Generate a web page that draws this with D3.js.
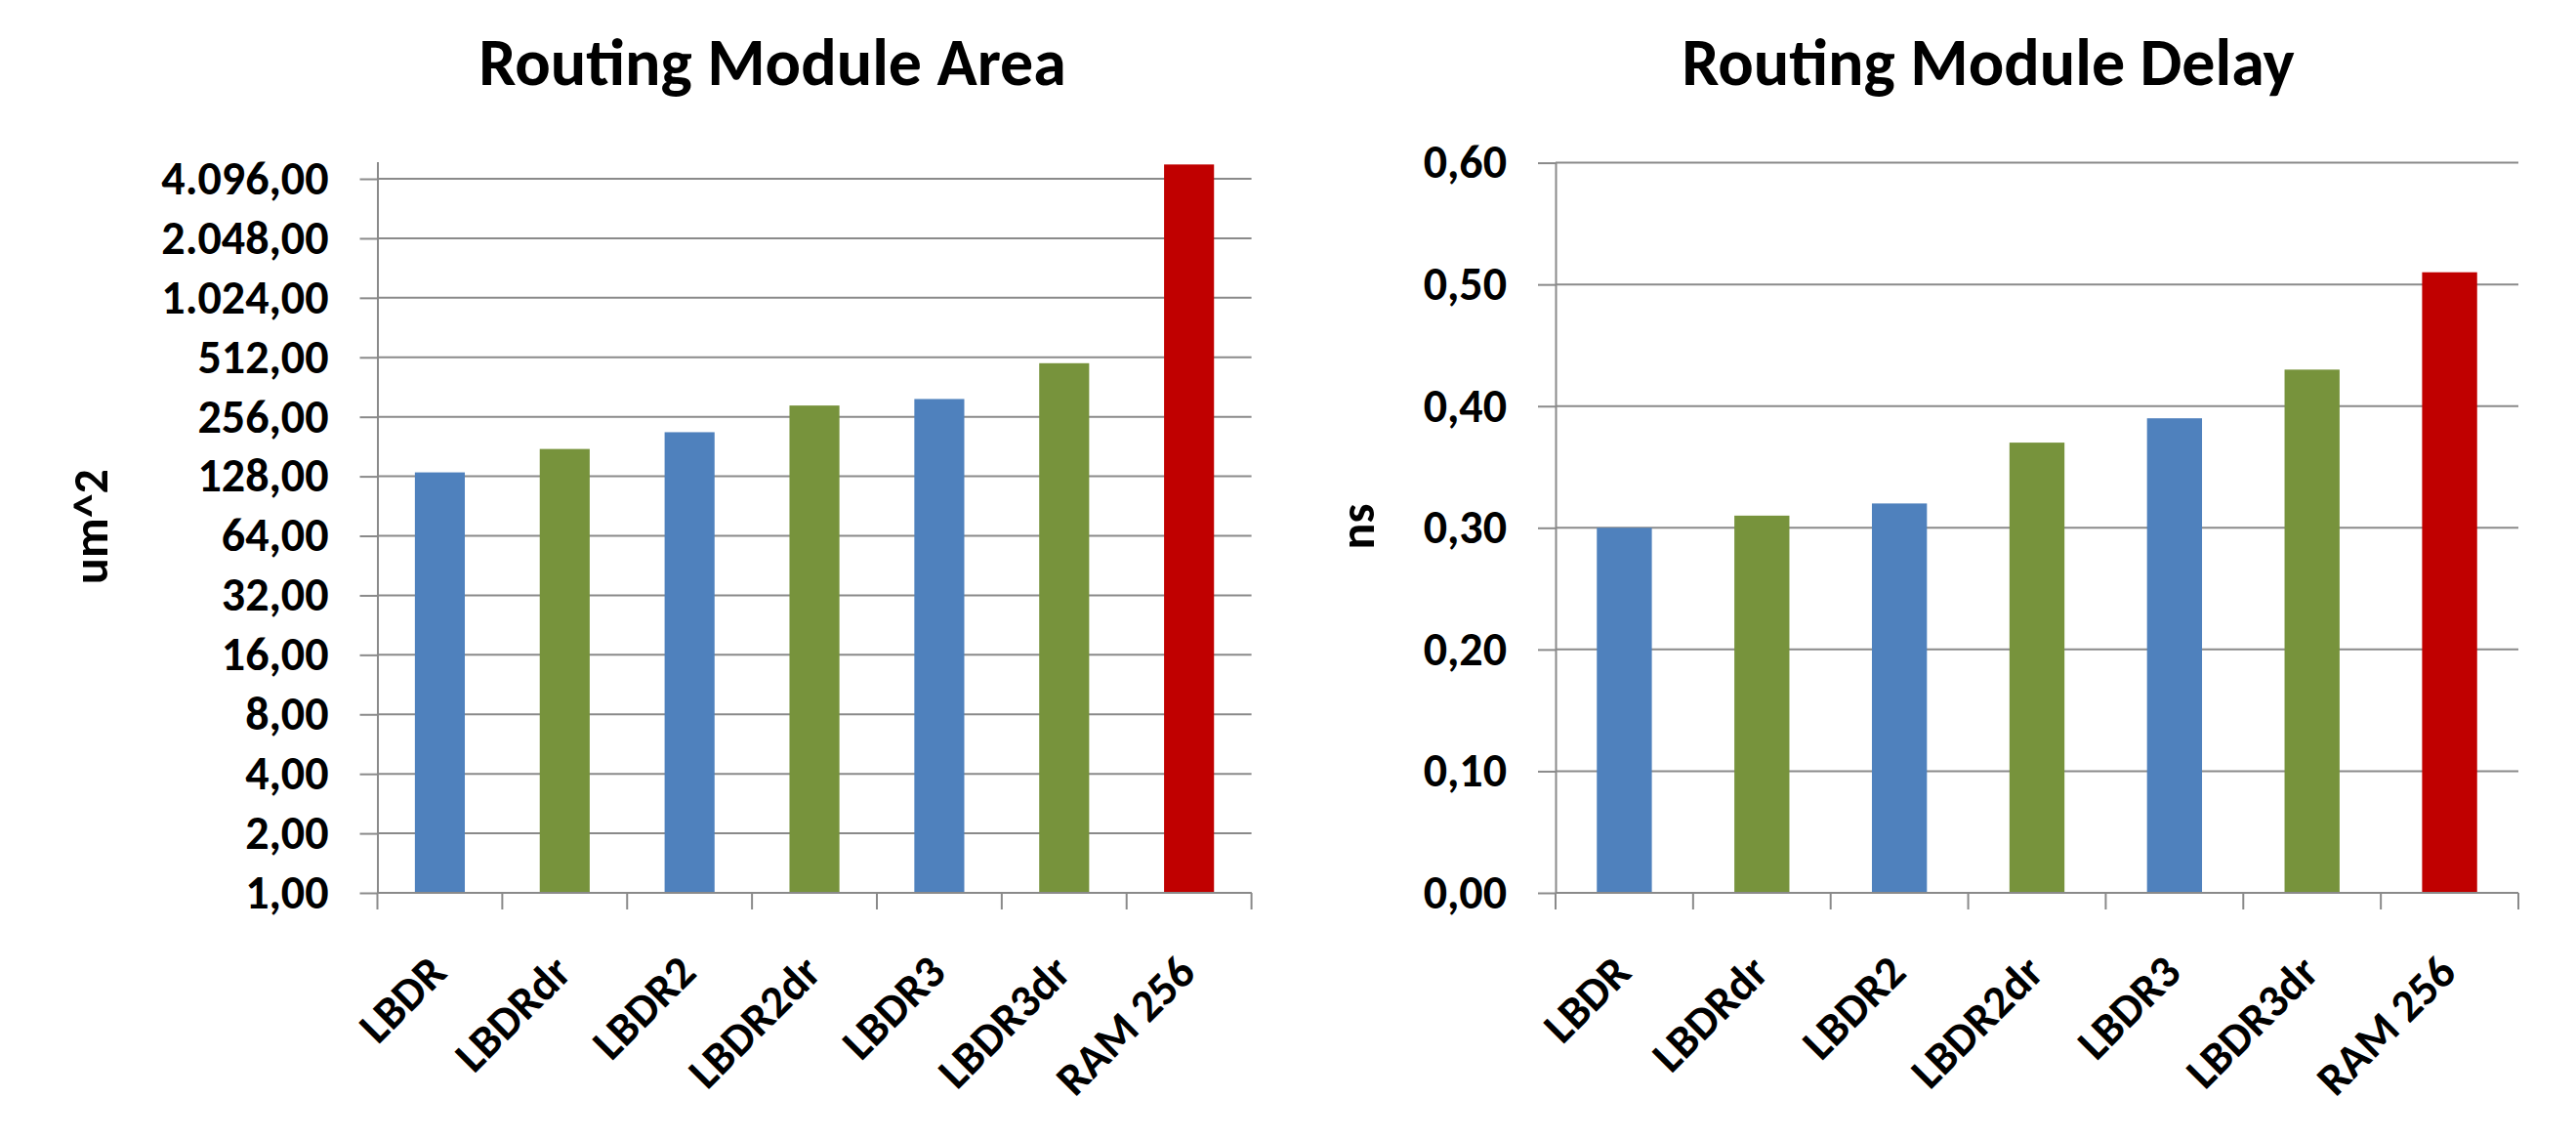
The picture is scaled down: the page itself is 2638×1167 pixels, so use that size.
<!DOCTYPE html>
<html>
<head>
<meta charset="utf-8">
<script src="https://cdnjs.cloudflare.com/ajax/libs/d3/7.8.5/d3.min.js"></script>
<style>
  html, body { margin: 0; padding: 0; background: #ffffff; }
  svg text { font-family: Carlito, Calibri, Lato, "Open Sans", sans-serif; font-weight: bold; fill: #000; }
</style>
</head>
<body>
<svg id="chart" width="2638" height="1167"></svg>
<script>
// ---- data ----
const categories = ["LBDR", "LBDRdr", "LBDR2", "LBDR2dr", "LBDR3", "LBDR3dr", "RAM 256"];
const areaValues = [134, 176, 214, 292, 315, 478, 4840];
const delayValues = [0.30, 0.31, 0.32, 0.37, 0.39, 0.43, 0.51];
const areaTicks = [1, 2, 4, 8, 16, 32, 64, 128, 256, 512, 1024, 2048, 4096];
const delayTicks = [0.0, 0.1, 0.2, 0.3, 0.4, 0.5, 0.6];
const areaMax = 5000;
const delayMax = 0.6;
const titles = ["Routing Module Area", "Routing Module Delay"];
const yTitles = ["um^2", "ns"];

// ---- styles ----
const barColors = ["#4F81BD", "#77933C", "#4F81BD", "#77933C", "#4F81BD", "#77933C", "#C00000"];
const gridColor = "#8a8a8a";

const loc = d3.formatLocale({ decimal: ",", thousands: ".", grouping: [3], currency: ["", "€"] });
const fmt = loc.format(",.2f");

const svg = d3.select("#chart");
svg.append("rect").attr("width", 2638).attr("height", 1167).attr("fill", "#fff");

function drawChart(cfg) {
  const g = svg.append("g");
  const x = d3.scaleBand().domain(categories).range([cfg.x0, cfg.x1]).paddingInner(0.6).paddingOuter(0.3);
  const y = cfg.y;
  const yBottom = cfg.yBottom;

  // gridlines
  g.append("g").selectAll("line").data(cfg.ticks).join("line")
    .attr("x1", cfg.x0).attr("x2", cfg.x1)
    .attr("y1", d => y(d)).attr("y2", d => y(d))
    .attr("stroke", gridColor).attr("stroke-width", 2);

  // bars
  g.append("g").selectAll("rect").data(cfg.values).join("rect")
    .attr("x", (d, i) => x(categories[i]))
    .attr("width", x.bandwidth())
    .attr("y", d => y(d))
    .attr("height", d => yBottom - y(d))
    .attr("fill", (d, i) => barColors[i]);

  // y axis
  const yAxis = d3.axisLeft(y).tickValues(cfg.ticks).tickFormat(cfg.format)
    .tickSize(18).tickSizeOuter(0).tickPadding(32);
  const ya = g.append("g").attr("transform", `translate(${cfg.x0},0)`).call(yAxis);
  ya.select(".domain").attr("stroke", gridColor).attr("stroke-width", 2);
  ya.selectAll(".tick line").attr("stroke", gridColor).attr("stroke-width", 2);
  ya.selectAll(".tick text").style("font-size", "48px").attr("fill", "#000");

  // x axis line + category boundary ticks
  g.append("line").attr("x1", cfg.x0).attr("x2", cfg.x1)
    .attr("y1", yBottom).attr("y2", yBottom)
    .attr("stroke", gridColor).attr("stroke-width", 2);
  const step = x.step();
  const x0 = cfg.x0;
  g.append("g").selectAll("line").data(d3.range(categories.length + 1)).join("line")
    .attr("x1", i => x0 + i * step).attr("x2", i => x0 + i * step)
    .attr("y1", yBottom).attr("y2", yBottom + 17)
    .attr("stroke", gridColor).attr("stroke-width", 2);

  // x labels
  g.append("g").selectAll("text").data(categories).join("text")
    .attr("transform", d => `translate(${x(d) + x.bandwidth() / 2 + 9},${yBottom + 84}) rotate(-45)`)
    .attr("text-anchor", "end")
    .style("font-size", "47px")
    .text(d => d);

  // title
  g.append("text").attr("x", cfg.titleX).attr("y", 87)
    .attr("text-anchor", "middle").style("font-size", "68px").text(cfg.title);

  // y axis title
  g.append("text")
    .attr("transform", `translate(${cfg.yTitleX},539) rotate(-90)`)
    .attr("text-anchor", "middle").style("font-size", "50px").text(cfg.yTitle);
}

// left chart: log scale
const yArea = d3.scaleLog().base(2).domain([1, areaMax]).range([914, 165.5]);
drawChart({
  x0: 386.5, x1: 1281.6, y: yArea, yBottom: 914,
  ticks: areaTicks, values: areaValues, format: d => fmt(d),
  title: titles[0], titleX: 791, yTitle: yTitles[0], yTitleX: 110
});

// right chart: linear scale
const yDelay = d3.scaleLinear().domain([0, delayMax]).range([914, 166.6]);
drawChart({
  x0: 1593, x1: 2579, y: yDelay, yBottom: 914,
  ticks: delayTicks, values: delayValues, format: d => fmt(d),
  title: titles[1], titleX: 2036, yTitle: yTitles[1], yTitleX: 1407
});
</script>
</body>
</html>
